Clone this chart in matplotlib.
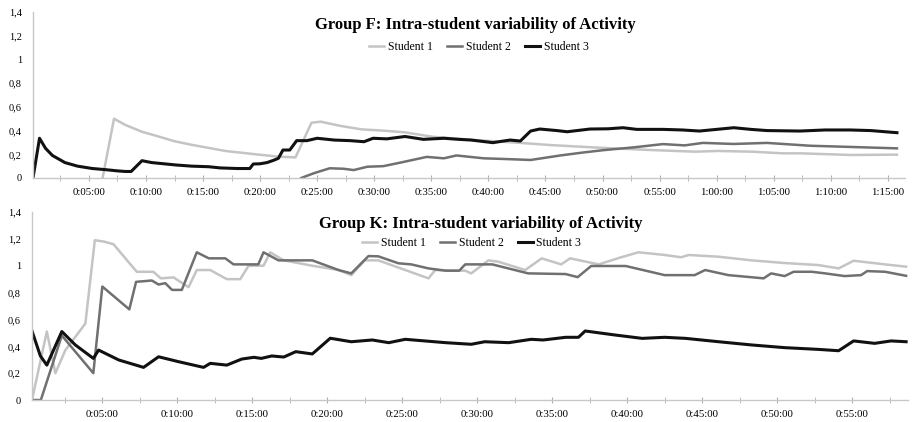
import matplotlib
matplotlib.use("Agg")
import matplotlib.pyplot as plt
from matplotlib.ticker import MultipleLocator, FuncFormatter

plt.rcParams['font.family'] = ['Liberation Serif', 'DejaVu Serif']

# Group F (minutes since start, activity)
f_t1 = [6.2, 7.2, 8.2, 9.65, 11.1, 12.5, 14.0, 16.95, 19.6, 21.6, 23.1, 24.5, 25.3, 27.0,
        28.9, 30.7, 32.7, 35.1, 38.8, 42.5, 45.4, 49.8, 54.2, 58.1, 60.1, 63.1, 65.8,
        67.4, 71.8, 75.8]
f_s1 = [0.0, 0.5, 0.447, 0.39, 0.35, 0.31, 0.28, 0.228, 0.2, 0.18, 0.174, 0.466, 0.475, 0.44,
        0.41, 0.4, 0.385, 0.348, 0.32, 0.298, 0.278, 0.255, 0.236, 0.222, 0.228, 0.222, 0.208,
        0.208, 0.194, 0.197]

f_t2 = [23.6, 24.7, 26.1, 27.3, 28.2, 29.4, 30.8, 32.3, 34.6, 36.1, 37.2, 39.6, 41.5, 43.7,
        46.3, 48.3, 50.2, 52.7, 55.3, 57.2, 58.8, 61.5, 64.4, 68.2, 71.7, 75.8]
f_s2 = [0.0, 0.04, 0.082, 0.078, 0.067, 0.095, 0.1, 0.13, 0.178, 0.166, 0.19, 0.166, 0.16, 0.152,
        0.19, 0.215, 0.236, 0.258, 0.286, 0.275, 0.296, 0.287, 0.296, 0.272, 0.262, 0.25]

f_t3 = [0.1, 0.67, 1.2, 1.8, 2.9, 4.0, 5.3, 6.5, 7.5, 8.2, 8.7, 9.65, 10.5, 12.6, 14.0, 15.5,
        16.5, 18.0, 19.1, 19.4, 20.0, 20.6, 21.2, 21.6, 22.0, 22.6, 23.2, 24.1, 25.0, 26.5,
        27.9, 29.1, 29.9, 31.1, 32.7, 34.3, 36.1, 37.4, 38.5, 40.4, 41.2, 41.9, 42.8, 43.7,
        44.5, 46.0, 46.9, 48.9, 50.5, 51.8, 53.0, 55.3, 57.0, 58.5, 60.0, 61.5, 63.0, 64.4,
        67.3, 69.5, 71.7, 73.5, 75.8]
f_s3 = [0.0, 0.335, 0.25, 0.19, 0.13, 0.1, 0.08, 0.07, 0.06, 0.055, 0.055, 0.146, 0.13, 0.11,
        0.1, 0.095, 0.085, 0.08, 0.08, 0.118, 0.12, 0.13, 0.15, 0.166, 0.236, 0.236, 0.315,
        0.315, 0.335, 0.32, 0.315, 0.306, 0.335, 0.33, 0.35, 0.326, 0.335, 0.326, 0.32,
        0.298, 0.31, 0.32, 0.312, 0.396, 0.413, 0.4, 0.39, 0.413, 0.415, 0.424, 0.41, 0.41,
        0.405, 0.396, 0.41, 0.424, 0.41, 0.4, 0.396, 0.405, 0.405, 0.4, 0.382]

# Group K
k_t1 = [0.31, 1.3, 1.87, 2.53, 3.87, 4.5, 5.1, 5.75, 6.65, 7.3, 8.4, 8.9, 9.75, 10.75, 11.3,
        12.2, 13.3, 14.2, 14.75, 15.75, 16.2, 17.1, 19.0, 20.75, 21.6, 22.5, 23.4, 26.75,
        27.2, 29.2, 29.6, 30.75, 31.4, 33.2, 34.3, 35.6, 36.2, 38.1, 39.6, 40.75, 41.65,
        42.5, 43.6, 44.1, 46.1, 48.3, 50.5, 52.75, 54.1, 55.1, 57.2, 58.6]
k_s1 = [0.0, 0.51, 0.2, 0.37, 0.57, 1.19, 1.18, 1.16, 1.04, 0.955, 0.955, 0.906, 0.913, 0.84,
        0.968, 0.968, 0.9, 0.9, 1.0, 1.0, 1.1, 1.04, 1.0, 0.968, 0.93, 1.04, 1.04, 0.906,
        0.968, 0.963, 0.943, 1.04, 1.03, 0.968, 1.055, 1.01, 1.055, 1.01, 1.063, 1.1, 1.09,
        1.08, 1.063, 1.08, 1.067, 1.04, 1.02, 1.005, 0.98, 1.037, 1.01, 0.993]

k_t2 = [0.31, 0.9, 2.3, 4.4, 5.0, 6.8, 7.25, 8.3, 8.75, 9.2, 9.65, 10.3, 11.3, 12.1, 13.2,
        13.75, 15.4, 15.75, 16.75, 19.0, 20.75, 21.6, 22.75, 23.4, 24.75, 25.6, 26.75, 27.9,
        28.8, 29.2, 31.0, 33.4, 35.9, 36.7, 37.6, 39.9, 42.5, 44.5, 45.2, 46.75, 49.1, 49.6,
        50.5, 51.1, 52.3, 53.2, 54.5, 55.6, 56.0, 57.2, 58.6]
k_s2 = [0.0, 0.0, 0.48, 0.2, 0.845, 0.675, 0.88, 0.89, 0.86, 0.87, 0.82, 0.82, 1.1, 1.055,
        1.055, 1.01, 1.01, 1.1, 1.04, 1.04, 0.968, 0.943, 1.072, 1.07, 1.018, 1.01, 0.98, 0.963,
        0.963, 1.01, 1.01, 0.943, 0.938, 0.915, 0.998, 0.998, 0.93, 0.93, 0.968, 0.93, 0.906,
        0.943, 0.923, 0.955, 0.955, 0.943, 0.923, 0.93, 0.96, 0.955, 0.925]

k_t3 = [0.31, 0.87, 1.3, 2.3, 3.2, 4.4, 4.75, 6.1, 7.75, 8.75, 10.1, 11.75, 12.2, 13.3, 14.3,
        15.1, 15.6, 16.3, 17.1, 17.9, 19.0, 19.3, 20.2, 21.6, 23.0, 24.1, 25.2, 26.5, 27.9,
        29.6, 30.5, 32.1, 33.6, 34.4, 35.9, 36.75, 37.2, 39.2, 41.0, 42.5, 43.9, 46.1, 48.3,
        50.5, 52.75, 54.1, 55.1, 56.5, 57.6, 58.6]
k_s3 = [0.514, 0.328, 0.26, 0.51, 0.41, 0.31, 0.372, 0.298, 0.243, 0.322, 0.285, 0.243, 0.273,
        0.26, 0.305, 0.318, 0.31, 0.328, 0.32, 0.36, 0.343, 0.372, 0.46, 0.434, 0.447, 0.427,
        0.452, 0.44, 0.427, 0.415, 0.434, 0.427, 0.452, 0.447, 0.467, 0.467, 0.514, 0.484,
        0.459, 0.467, 0.459, 0.434, 0.41, 0.39, 0.377, 0.367, 0.44, 0.422, 0.44, 0.434]

names = ['Student 1', 'Student 2', 'Student 3']
colors = ['#c4c4c4', '#707070', '#111111']
widths = [1.8, 1.8, 2.2]
yticks = [0, 0.2, 0.4, 0.6, 0.8, 1.0, 1.2, 1.4]
ylabels = ['0', '0,2', '0,4', '0,6', '0,8', '1', '1,2', '1,4']


def hms(x, pos):
    m = int(round(x * 60)) // 60
    return '%d:%02d:00' % (m // 60, m % 60)


fig = plt.figure(figsize=(9.14, 4.22), dpi=100)
ax1 = fig.add_axes([0.0361, 0.5782, 0.954, 0.3934])
ax2 = fig.add_axes([0.035, 0.0521, 0.958, 0.4455])

panels = [
    (ax1, 'Group F: Intra-student variability of Activity',
     [(f_t1, f_s1), (f_t2, f_s2), (f_t3, f_s3)], (0.1, 76.5), (0.507, 0.92), (0.511, 0.789)),
    (ax2, 'Group K: Intra-student variability of Activity',
     [(k_t1, k_s1), (k_t2, k_s2), (k_t3, k_s3)], (0.31, 58.7), (0.513, 0.936), (0.502, 0.835)),
]

for ax, title, series, xlim, tpos, lpos in panels:
    for (t, s), name, c, w in zip(series, names, colors, widths):
        ax.plot(t, s, color=c, lw=w, label=name, solid_joinstyle='round')
    ax.set_xlim(*xlim)
    ax.set_ylim(0, 1.4)
    ax.set_yticks(yticks)
    ax.set_yticklabels(ylabels)
    ax.xaxis.set_major_locator(MultipleLocator(5))
    ax.xaxis.set_minor_locator(MultipleLocator(2.5))
    ax.xaxis.set_major_formatter(FuncFormatter(hms))
    for side in ['top', 'right']:
        ax.spines[side].set_visible(False)
    for side in ['left', 'bottom']:
        ax.spines[side].set_color('#c8c8c8')
        ax.spines[side].set_linewidth(1.0)
    ax.tick_params(axis='y', length=0, pad=8, labelsize=7.5)
    ax.tick_params(axis='x', which='both', direction='inout', length=4, color='#b0b0b0',
                   labelsize=7.8, pad=5.5)
    ax.text(tpos[0], tpos[1], title, transform=ax.transAxes, ha='center', va='center',
            fontsize=12, fontweight='bold')
    ax.legend(loc='center', bbox_to_anchor=lpos, ncol=3, frameon=False, fontsize=8.5,
              handlelength=1.3, handletextpad=0.3, columnspacing=1.2, borderpad=0)

fig.savefig('out.png', dpi=100)
